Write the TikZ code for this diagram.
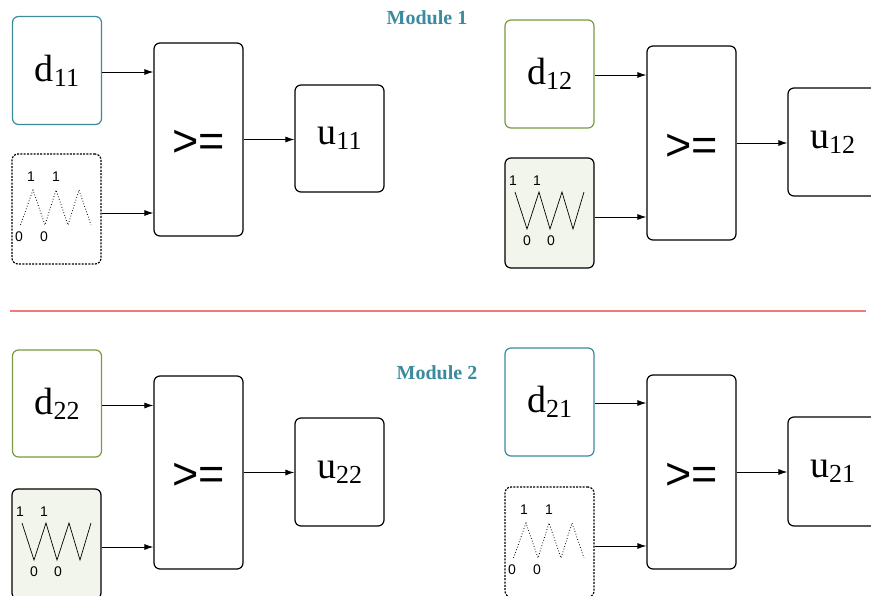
\documentclass[tikz,border=0pt]{standalone}
\usepackage{fontspec}
\setmainfont{Liberation Serif}
\setsansfont{Liberation Sans}
\usepackage{tikz}
\usetikzlibrary{arrows.meta,positioning}

\definecolor{modteal}{HTML}{3B8A9E}
\definecolor{modgreen}{HTML}{7A9A3E}
\definecolor{sawfill}{HTML}{F2F5EC}
\definecolor{seprule}{HTML}{F07A7A}

% variable name with a lowered index, as in the boxes
\newcommand{\varlabel}[2]{{\fontsize{38}{40}\selectfont #1}\raisebox{-5pt}{\fontsize{26}{28}\selectfont #2}}
% comparison sign, sitting a little low in its box
\newcommand{\cmpsign}{\raisebox{-4pt}[\height][\depth]{>=}}

\begin{document}
\begin{tikzpicture}[
   x=1pt,y=-1pt,
   every node/.style={inner sep=0pt},
   blockbox/.style={draw=black,line width=1.2pt,rounded corners=6pt,
     minimum width=89pt,minimum height=108pt},
   tealbox/.style={blockbox,draw=modteal},
   greenbox/.style={blockbox,draw=modgreen},
   dotsaw/.style={blockbox,minimum height=110pt,dash pattern=on 2pt off 1.3pt},
   fillsaw/.style={blockbox,minimum height=110pt,fill=sawfill},
   cmpbox/.style={blockbox,minimum height=193pt,font=\sffamily\fontsize{45}{48}\selectfont},
   sawnum/.style={font=\sffamily\fontsize{14}{16}\selectfont},
   modtitle/.style={font=\bfseries\fontsize{20}{24}\selectfont,text=modteal},
   flow/.style={line width=.9pt,-{Latex[length=9pt,width=6pt]}},
   pics/dottedwave/.style={code={
     \draw[line width=.8pt,dotted] (-36,16) -- (-23.5,-19) -- (-11.5,16) -- (-.5,-19)
        -- (11.5,16) -- (22.5,-19) -- (34.5,16);
     \node[sawnum] (-t1) at (-25.5,-32) {1};
     \node[sawnum] (-t2) at (-.5,-32) {1};
     \node[sawnum] (-b1) at (-37.5,28) {0};
     \node[sawnum] (-b2) at (-12.5,28) {0};
   }},
   pics/solidwave/.style={code={
     \draw[line width=.7pt] (-34.5,-21) -- (-22.5,16) -- (-10.5,-21) -- (.5,16)
        -- (12.5,-21) -- (23.5,16) -- (34.5,-21);
     \node[sawnum] (-t1) at (-36.5,-32) {1};
     \node[sawnum] (-t2) at (-12.5,-32) {1};
     \node[sawnum] (-b1) at (-22.5,28) {0};
     \node[sawnum] (-b2) at (1.5,28) {0};
   }}
 ]
  \useasboundingbox (0,0) rectangle (871,596);

  % Module 1, left half
  \node[tealbox] (d11) at (57,70.5) {\varlabel{d}{11}};
  \node[dotsaw] (s11) at (56.5,209) {};
  \pic (w11) at (s11) {dottedwave};
  \node[cmpbox] (g11) at (198.5,139.5) {\cmpsign};
  \node[blockbox,minimum height=107pt] (u11) at (339.5,138.5) {\varlabel{u}{11}};
  \draw[flow] ([yshift=-1.5pt]d11.east) -- ([yshift=-1.5pt]d11.east -| g11.west);
  \draw[flow] ([yshift=-4pt]s11.east) -- ([yshift=-4pt]s11.east -| g11.west);
  \draw[flow] (g11.east) -- (g11.east -| u11.west);
  \node[modtitle] (m1) at (427,18) {Module 1};

  % Module 1, right half
  \node[greenbox] (d12) at (549.5,74) {\varlabel{d}{12}};
  \node[fillsaw] (s12) at (549.5,213) {};
  \pic (w12) at (s12) {solidwave};
  \node[cmpbox,minimum height=194pt] (g12) at (691.5,143) {\cmpsign};
  \node[blockbox] (u12) at (832.5,142) {\varlabel{u}{12}};
  \draw[flow] ([yshift=-1pt]d12.east) -- ([yshift=-1pt]d12.east -| g12.west);
  \draw[flow] ([yshift=-4pt]s12.east) -- ([yshift=-4pt]s12.east -| g12.west);
  \draw[flow] (g12.east) -- (g12.east -| u12.west);

  % separator between the two modules
  \draw[seprule,line width=1.2pt] (10,311) -- (866,311);

  % Module 2, left half
  \node[greenbox,minimum height=107pt] (d22) at (57,403.5) {\varlabel{d}{22}};
  \node[fillsaw] (s22) at (56.5,544) {};
  \pic (w22) at (s22) {solidwave};
  \node[cmpbox] (g22) at (198.5,472.5) {\cmpsign};
  \node[blockbox] (u22) at (339.5,472) {\varlabel{u}{22}};
  \draw[flow] ([yshift=-2pt]d22.east) -- ([yshift=-2pt]d22.east -| g22.west);
  \draw[flow] ([yshift=-3pt]s22.east) -- ([yshift=-3pt]s22.east -| g22.west);
  \draw[flow] (g22.east) -- (g22.east -| u22.west);
  \node[modtitle] (m2) at (437,373) {Module 2};

  % Module 2, right half
  \node[tealbox] (d21) at (549.5,402) {\varlabel{d}{21}};
  \node[dotsaw] (s21) at (549.5,542) {};
  \pic (w21) at (s21) {dottedwave};
  \node[cmpbox,minimum height=194pt] (g21) at (691.5,472) {\cmpsign};
  \node[blockbox,minimum height=109pt] (u21) at (832.5,471.5) {\varlabel{u}{21}};
  \draw[flow] ([yshift=-1pt]d21.east) -- ([yshift=-1pt]d21.east -| g21.west);
  \draw[flow] ([yshift=-4pt]s21.east) -- ([yshift=-4pt]s21.east -| g21.west);
  \draw[flow] (g21.east) -- (g21.east -| u21.west);
 \end{tikzpicture}
\end{document}
